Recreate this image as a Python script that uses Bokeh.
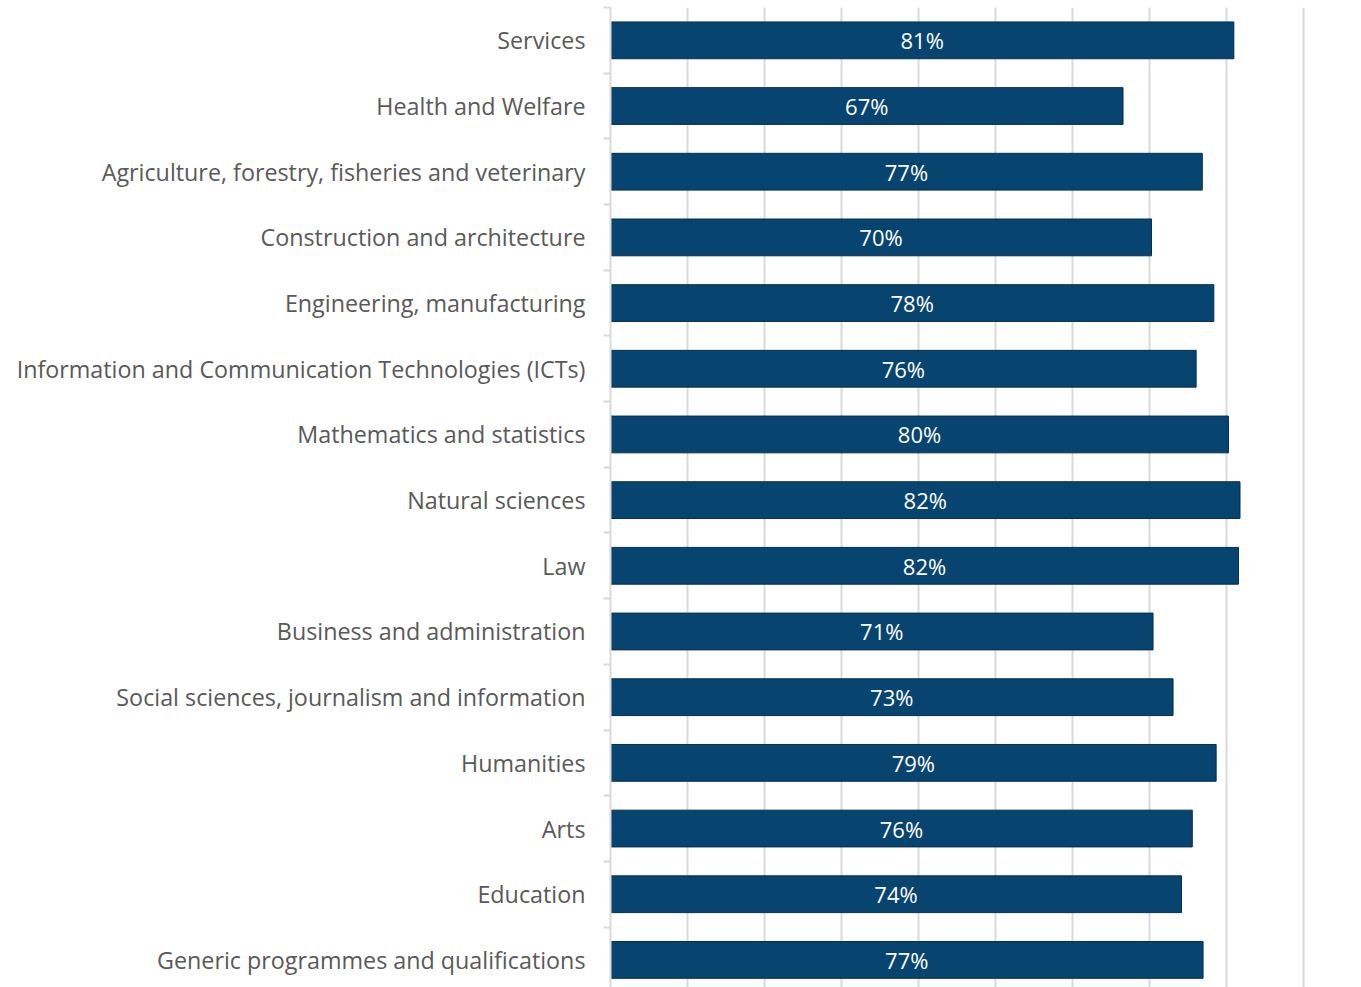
from bokeh.plotting import figure
from bokeh.models import FixedTicker, Range1d, ColumnDataSource
from bokeh.core.properties import value
from bokeh.embed import file_html
from bokeh.resources import INLINE

categories = [
    "Services",
    "Health and Welfare",
    "Agriculture, forestry, fisheries and veterinary",
    "Construction and architecture",
    "Engineering, manufacturing",
    "Information and Communication Technologies (ICTs)",
    "Mathematics and statistics",
    "Natural sciences",
    "Law",
    "Business and administration",
    "Social sciences, journalism and information",
    "Humanities",
    "Arts",
    "Education",
    "Generic programmes and qualifications",
]
shares = [0.810, 0.666, 0.769, 0.703, 0.784, 0.761, 0.803, 0.818, 0.816, 0.705, 0.731, 0.787, 0.756, 0.742, 0.770]
labels = ["81%", "67%", "77%", "70%", "78%", "76%", "80%", "82%", "82%", "71%", "73%", "79%", "76%", "74%", "77%"]

FONT = "Open Sans"
pos = list(range(len(categories)))
src = ColumnDataSource(dict(y=pos, v=shares, mid=[s / 2 for s in shares], lab=labels))

p = figure(width=1318, height=987, output_backend="svg", toolbar_location=None,
           x_range=Range1d(0, 0.92), y_range=Range1d(14.42, -0.5),
           min_border_left=610, min_border_right=0, min_border_top=7, min_border_bottom=0)
p.outline_line_color = None
p.background_fill_color = "white"
p.border_fill_color = "white"

p.hbar(y="y", right="v", left=0, height=0.56, source=src,
       fill_color="#084470", line_color="#062f4f", line_width=1)
p.text(x="mid", y="y", text="lab", source=src, text_align="center", text_baseline="middle",
       text_color="white", text_font=value(FONT), text_font_size="22px")

p.xaxis.visible = False
p.xgrid.ticker = FixedTicker(ticks=[0.1, 0.2, 0.3, 0.4, 0.5, 0.6, 0.7, 0.8, 0.9])
p.xgrid.grid_line_color = "#d9d9d9"
p.xgrid.grid_line_width = 2
p.ygrid.visible = False

yax = p.yaxis[0]
yax.ticker = FixedTicker(ticks=pos, minor_ticks=[i - 0.5 for i in range(len(categories) + 1)])
yax.major_label_overrides = {i: c for i, c in enumerate(categories)}
yax.major_tick_line_color = None
yax.major_tick_out = 0
yax.major_tick_in = 0
yax.minor_tick_line_color = "#d9d9d9"
yax.minor_tick_line_width = 2
yax.minor_tick_out = 7
yax.minor_tick_in = 0
yax.axis_line_color = "#d9d9d9"
yax.axis_line_width = 2
yax.major_label_standoff = 18
yax.major_label_text_font = FONT
yax.major_label_text_font_size = "23.3px"
yax.major_label_text_color = "#595959"

open("out.html", "w").write(file_html(p, INLINE))
